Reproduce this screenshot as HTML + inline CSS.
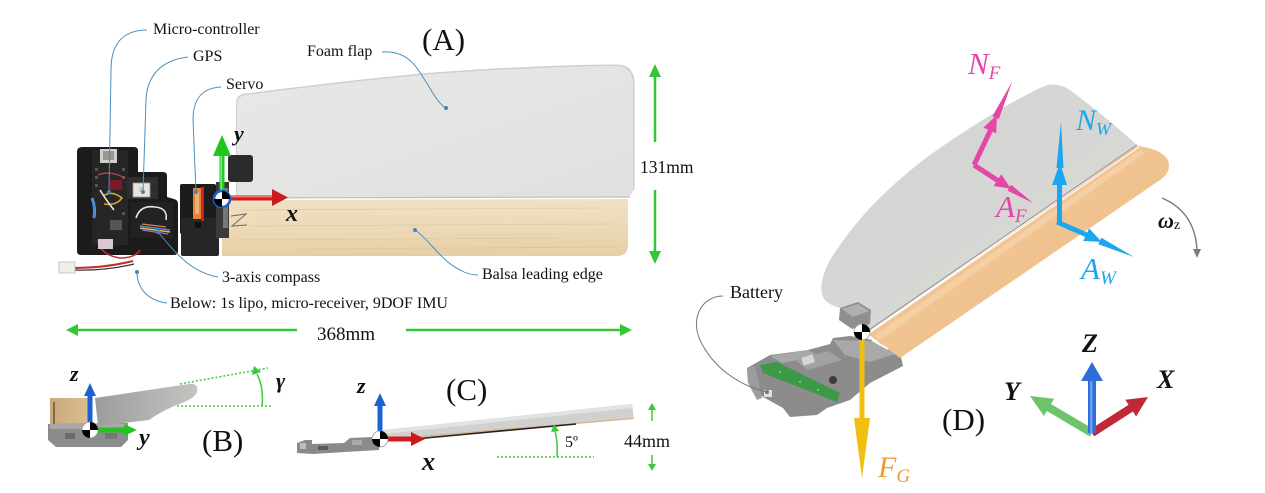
<!DOCTYPE html>
<html>
<head>
<meta charset="utf-8">
<style>
html,body{margin:0;padding:0;background:#fff;}
body{width:1265px;height:493px;overflow:hidden;}
svg{display:block;}
text{font-family:"Liberation Serif","DejaVu Serif",serif;}
.lbl{font-size:16px;fill:#111;}
.it{font-style:italic;}
.bi{font-style:italic;font-weight:bold;fill:#111;}
</style>
</head>
<body>
<svg width="1265" height="493" viewBox="0 0 1265 493" xmlns="http://www.w3.org/2000/svg">
<defs>
  <linearGradient id="balsaA" x1="0" y1="0" x2="0" y2="1">
    <stop offset="0" stop-color="#f1e2c6"/>
    <stop offset="0.5" stop-color="#ecd9b6"/>
    <stop offset="1" stop-color="#e6cfa6"/>
  </linearGradient>
  <linearGradient id="foamA" x1="0" y1="0" x2="1" y2="1">
    <stop offset="0" stop-color="#e8e8e6"/>
    <stop offset="1" stop-color="#e0e0de"/>
  </linearGradient>
  <linearGradient id="balsaD" x1="0" y1="0" x2="1" y2="1">
    <stop offset="0" stop-color="#f3cd9e"/>
    <stop offset="1" stop-color="#eeb982"/>
  </linearGradient>
  <linearGradient id="foamD" x1="0" y1="0" x2="1" y2="1">
    <stop offset="0" stop-color="#d3d4d1"/>
    <stop offset="1" stop-color="#d9dad7"/>
  </linearGradient>
  <linearGradient id="flapB" x1="0" y1="0" x2="1" y2="0">
    <stop offset="0" stop-color="#9c9c9a"/>
    <stop offset="1" stop-color="#c4c4c2"/>
  </linearGradient>
  <linearGradient id="woodB" x1="0" y1="0" x2="1" y2="0">
    <stop offset="0" stop-color="#c9a878"/>
    <stop offset="1" stop-color="#dcbf93"/>
  </linearGradient>
</defs>

<!-- ================= PANEL A ================= -->
<path d="M236,104 Q236,94 246,93.5 C300,86.5 360,79.5 420,73.5 C500,67.5 570,64.5 616,64.5 Q634.5,64.5 634.5,83 L634.5,190 L236,198 Z" fill="#cfcfcd"/>
<path d="M237,105 Q237,96 246,95 C300,88 360,81 420,75 C500,69 570,66 615,66 Q633,66 633,84 L633,189 Q633,197 624,197 L237,198 Z" fill="url(#foamA)"/>
<line x1="237" y1="198" x2="630" y2="197" stroke="#bdbdbb" stroke-width="1.2"/>
<path d="M222,200 L628,199 L628,245 Q628,256 617,256 L222,256 Z" fill="url(#balsaA)"/>
<g stroke="#d9c29a" stroke-width="0.8" opacity="0.7">
  <line x1="240" y1="210" x2="600" y2="208"/>
  <line x1="250" y1="226" x2="610" y2="224"/>
  <line x1="235" y1="240" x2="560" y2="238"/>
  <line x1="300" y1="249" x2="620" y2="247"/>
</g>
<polyline points="231,216 246,214 232,226 247,225" fill="none" stroke="#6a6a6a" stroke-width="1"/>

<!-- electronics housing -->
<path d="M82,147 L134,147 Q138,147 138,151 L138,172 L163,172 Q167,172 167,176 L167,197 L174,199 Q178,200 178,204 L178,251 Q178,255 174,255 L81,255 Q77,255 77,251 L77,152 Q77,147 82,147 Z" fill="#1b1b1b"/>
<rect x="92" y="150" width="36" height="95" fill="#262626"/>
<rect x="100" y="149" width="17" height="14" fill="#cfcfcb"/>
<rect x="103" y="151" width="11" height="9" fill="#9a9690"/>
<g fill="#555">
  <rect x="95" y="168" width="3" height="3"/><rect x="95" y="176" width="3" height="3"/><rect x="95" y="184" width="3" height="3"/>
  <rect x="122" y="168" width="3" height="3"/><rect x="122" y="176" width="3" height="3"/><rect x="122" y="212" width="3" height="3"/>
  <rect x="110" y="220" width="12" height="10"/>
</g>
<rect x="110" y="180" width="12" height="10" fill="#7a1a2a"/>
<path d="M92,198 Q96,208 94,218" stroke="#4a90d8" stroke-width="3" fill="none"/>
<path d="M103,196 Q112,190 122,198 Q116,206 104,204" stroke="#d9a030" stroke-width="1.6" fill="none"/>
<path d="M100,190 Q106,200 114,210" stroke="#e8e8e8" stroke-width="1.6" fill="none"/>
<path d="M98,175 Q110,170 125,178" stroke="#c04040" stroke-width="1.3" fill="none"/>
<rect x="127" y="177" width="31" height="22" fill="#2e2e2e"/>
<rect x="133" y="183" width="17" height="14" fill="#e6e4de" stroke="#999" stroke-width="0.8"/>
<rect x="139" y="187" width="5" height="5" fill="#cfc9b8"/>
<rect x="131" y="202" width="42" height="36" fill="#222"/>
<path d="M136,218 Q140,205 155,207 Q168,208 166,220" stroke="#e6e6e6" stroke-width="1.6" fill="none"/>
<path d="M140,226 L170,230" stroke="#4a8ad8" stroke-width="1.4"/>
<path d="M140,228 L170,232" stroke="#e0c040" stroke-width="1.4"/>
<path d="M142,230 L168,234" stroke="#9a6ad0" stroke-width="1.2"/>
<path d="M142,224 L166,227" stroke="#e08040" stroke-width="1.2"/>
<path d="M98,240 Q100,255 120,258 Q135,258 140,250" stroke="#c83030" stroke-width="1.5" fill="none"/>
<rect x="98" y="239" width="15" height="10" fill="#d8c8d0"/>
<path d="M74,268 Q105,268 133,261" stroke="#c82828" stroke-width="2" fill="none"/>
<path d="M74,270 Q105,271 134,264" stroke="#333" stroke-width="1.2" fill="none"/>
<rect x="59" y="262" width="16" height="11" fill="#f2efe6" stroke="#bbb" stroke-width="0.8"/>
<!-- servo -->
<rect x="180" y="184" width="36" height="50" rx="2" fill="#1c1c1c"/>
<rect x="181" y="218" width="38" height="38" rx="2" fill="#262626"/>
<rect x="193" y="188" width="8" height="31" fill="#e4862e"/>
<rect x="195" y="192" width="4" height="22" fill="#f0b070"/>
<rect x="201" y="187" width="3" height="34" fill="#d02020"/>
<rect x="195" y="222" width="6" height="6" fill="#0e0e0e"/>
<rect x="216" y="182" width="13" height="56" fill="#3a3a3a"/>
<rect x="223" y="188" width="5" height="40" fill="#777"/>
<rect x="228" y="155" width="25" height="27" rx="3" fill="#2b2b2b"/>

<!-- axes A -->
<rect x="219.5" y="153" width="5" height="40" fill="#24c824"/>
<rect x="220.5" y="153" width="1.5" height="40" fill="#7fe87f"/>
<polygon points="213,156 231,156 222,135" fill="#22c422"/>
<rect x="228" y="195.5" width="46" height="5" fill="#d01c1c"/>
<rect x="228" y="196" width="46" height="1.5" fill="#f07070"/>
<polygon points="272,189 272,206 288,197.5" fill="#cc1a1a"/>
<g transform="translate(222,199)">
  <circle r="8" fill="#fff" stroke="#1e63cc" stroke-width="2.6"/>
  <path d="M0,0 L0,-8 A8 8 0 0 1 8,0 Z" fill="#000"/>
  <path d="M0,0 L0,8 A8 8 0 0 1 -8,0 Z" fill="#000"/>
</g>
<text x="234" y="141" class="bi" font-size="22">y</text>
<text x="286" y="221" class="bi" font-size="24">x</text>

<!-- leaders A -->
<g stroke="#4d8fbd" stroke-width="1" fill="none">
  <path d="M147,30 C122,30 111,45 111,70 L109,192"/>
  <path d="M188,57 C162,60 147,75 146,100 L143,192"/>
  <path d="M221,87 C201,88 193,100 193,120 L196,192"/>
  <path d="M158,232 C175,252 190,272 218,277"/>
  <path d="M137,272 C137,290 150,301 167,303"/>
  <path d="M382,52 C410,50 418,70 428,85 C435,97 440,105 446,108"/>
  <path d="M415,230 C430,240 440,260 460,270 C467,274 472,275 478,275"/>
</g>
<g fill="#3d86c0">
  <circle cx="109" cy="192" r="2"/><circle cx="143" cy="192" r="2"/><circle cx="196" cy="192" r="2"/>
  <circle cx="158" cy="232" r="2"/><circle cx="137" cy="272" r="2"/>
  <circle cx="446" cy="108" r="2"/><circle cx="415" cy="230" r="2"/>
</g>

<text x="153" y="34" class="lbl">Micro-controller</text>
<text x="193" y="61" class="lbl">GPS</text>
<text x="226" y="89" class="lbl">Servo</text>
<text x="307" y="56" class="lbl">Foam flap</text>
<text x="422" y="50" font-size="31" fill="#111">(A)</text>
<text x="640" y="173" font-size="17.5" fill="#111">131mm</text>
<text x="482" y="279" class="lbl">Balsa leading edge</text>
<text x="222" y="282" class="lbl">3-axis compass</text>
<text x="170" y="308" class="lbl">Below: 1s lipo, micro-receiver, 9DOF IMU</text>

<g stroke="#34c634" stroke-width="2.5">
  <line x1="655" y1="74" x2="655" y2="142"/>
  <line x1="655" y1="190" x2="655" y2="254"/>
  <line x1="76" y1="330" x2="297" y2="330"/>
  <line x1="406" y1="330" x2="622" y2="330"/>
</g>
<g fill="#34c634">
  <polygon points="649,77 661,77 655,64"/>
  <polygon points="649,251 661,251 655,264"/>
  <polygon points="78,324 78,336 66,330"/>
  <polygon points="620,324 620,336 632,330"/>
</g>
<text x="317" y="340" font-size="19" fill="#111">368mm</text>

<!-- ================= PANEL B ================= -->
<rect x="50" y="398" width="40" height="29" fill="url(#woodB)"/>
<line x1="54" y1="402" x2="54" y2="425" stroke="#6a5438" stroke-width="1.5"/>
<path d="M48,424 L128,423 L128,440 L121,447 L56,447 L48,440 Z" fill="#8c8c8c"/>
<path d="M50,424 L127,424 L127,429 L50,429 Z" fill="#a9a9a9"/>
<rect x="65" y="433" width="10" height="6" fill="#6c6c6c"/>
<rect x="105" y="433" width="12" height="6" fill="#777"/>
<path d="M95,398 L189,384 Q199,383 197,392 Q195,399 174,406 Q157,414 149,420 L98,426 Z" fill="url(#flapB)"/>
<rect x="87.5" y="394" width="5" height="36" fill="#1b63d0"/>
<polygon points="84,396 96,396 90,383" fill="#1b63d0"/>
<rect x="90" y="427.5" width="36" height="5" fill="#22c422"/>
<polygon points="124,424 124,436 137,430" fill="#22c422"/>
<g transform="translate(90,430)">
  <circle r="8" fill="#fff" stroke="#999" stroke-width="0.8"/>
  <path d="M0,0 L0,-8 A8 8 0 0 1 8,0 Z" fill="#000"/>
  <path d="M0,0 L0,8 A8 8 0 0 1 -8,0 Z" fill="#000"/>
</g>
<text x="70" y="381" class="bi" font-size="22">z</text>
<text x="139" y="445" class="bi" font-size="24">y</text>
<g stroke="#3cc83c" stroke-width="1.5" stroke-dasharray="2 2" fill="none">
  <line x1="177" y1="406" x2="272" y2="406"/>
  <line x1="180" y1="384" x2="268" y2="368"/>
</g>
<path d="M262,406 Q264,388 257,374" stroke="#3cc83c" stroke-width="1.5" fill="none"/>
<polygon points="252,375 261,372 254,366" fill="#3cc83c"/>
<text x="276" y="388" class="bi" font-size="22">γ</text>
<text x="202" y="451" font-size="31" fill="#111">(B)</text>

<!-- ================= PANEL C ================= -->
<path d="M297,443 L305,440 L312,440 L312,444 L344,443 L350,438 L373,437 L379,441 L379,450 L345,452 L313,454 L297,453 Z" fill="#8a8a8a"/>
<rect x="300" y="443" width="6" height="6" fill="#bdbdbd"/>
<rect x="318" y="446" width="10" height="4" fill="#5a5a5a"/>
<rect x="352" y="440" width="10" height="5" fill="#a9a9a9"/>
<path d="M383,430 L632,404 L634,419 L420,438 L388,441 Z" fill="#d0d0ce"/>
<path d="M383,430 L632,404 L632,408 L384,434 Z" fill="#e2e2e0"/>
<line x1="420" y1="436.5" x2="633" y2="418.5" stroke="#dab080" stroke-width="1"/>
<line x1="420" y1="438.5" x2="576" y2="424" stroke="#222" stroke-width="1.6"/>
<rect x="377.5" y="404" width="5" height="35" fill="#1b63d0"/>
<polygon points="374,406 386,406 380,393" fill="#1b63d0"/>
<rect x="380" y="436.5" width="33" height="5" fill="#d01c1c"/>
<polygon points="411,432 411,446 425,439" fill="#cc1a1a"/>
<g transform="translate(380,439)">
  <circle r="8" fill="#fff" stroke="#999" stroke-width="0.8"/>
  <path d="M0,0 L0,-8 A8 8 0 0 1 8,0 Z" fill="#000"/>
  <path d="M0,0 L0,8 A8 8 0 0 1 -8,0 Z" fill="#000"/>
</g>
<text x="357" y="393" class="bi" font-size="22">z</text>
<text x="422" y="470" class="bi" font-size="26">x</text>
<text x="446" y="400" font-size="31" fill="#111">(C)</text>
<line x1="497" y1="457" x2="594" y2="457" stroke="#3cc83c" stroke-width="1.5" stroke-dasharray="2 2"/>
<path d="M557,457 Q558,442 555,431" stroke="#3cc83c" stroke-width="1.5" fill="none"/>
<polygon points="551,432 559,431 554,424" fill="#3cc83c"/>
<text x="565" y="447" font-size="16" fill="#111">5º</text>
<g stroke="#3cc83c" stroke-width="1.5">
  <line x1="652" y1="409" x2="652" y2="421"/>
  <line x1="652" y1="455" x2="652" y2="465"/>
</g>
<g fill="#3cc83c">
  <polygon points="648,410 656,410 652,403"/>
  <polygon points="648,464 656,464 652,471"/>
</g>
<text x="624" y="447" font-size="18" fill="#111">44mm</text>

<!-- ================= PANEL D ================= -->
<path d="M823,297 C818,285 825,265 838,248 C860,215 890,185 930,155 C965,130 1005,105 1040,88 Q1055,80 1070,90 C1090,105 1115,125 1137,145 L868,332 L852,322 L840,308 Q826,304 823,297 Z" fill="url(#foamD)"/>
<!-- mechanism -->
<path d="M747,368 L770,355 L808,350 L830,344 L833,338 L850,336 L873,340 L900,352 L903,366 L870,383 L850,400 L827,408 L817,415 L790,417 L783,408 L763,397 L748,383 Z" fill="#8c8c8c"/>
<path d="M770,356 L808,350 L818,356 L782,363 Z" fill="#a8a8a8"/>
<path d="M795,360 L828,351 L842,360 L808,370 Z" fill="#a2a2a2"/>
<rect x="802" y="356" width="12" height="8" fill="#d6d6d6" transform="rotate(-18 808 360)"/>
<path d="M833,340 L873,341 L898,353 L870,362 L845,355 Z" fill="#a9a9a9"/>
<circle cx="833" cy="380" r="4" fill="#3e3e3e"/>
<path d="M760,365 L777,362 L840,393 L837,402 L763,373 Z" fill="#3c9948"/>
<g fill="#8ccf8c"><circle cx="780" cy="372" r="1"/><circle cx="800" cy="382" r="1"/><circle cx="818" cy="390" r="1"/></g>
<path d="M747,368 L755,366 L762,398 L757,400 L748,383 Z" fill="#9c9c9c"/>
<rect x="764" y="390" width="8" height="7" fill="#e0e0e0"/>
<path d="M840,308 L858,302 L871,310 L870,324 L852,329 L839,320 Z" fill="#8f8f8f"/>
<path d="M842,309 L858,304 L869,311 L853,317 Z" fill="#b0b0b0"/>
<!-- balsa -->
<path d="M868,334 L1137,146 Q1160,148 1168,160 Q1172,172 1160,180 L900,358 Z" fill="url(#balsaD)"/>
<path d="M874,336 L1140,150 L1145,153 L880,340 Z" fill="#f6d6ac" opacity="0.7"/>
<line x1="866" y1="332" x2="1137" y2="145" stroke="#9c9c9a" stroke-width="1.2"/>
<line x1="868" y1="334" x2="1139" y2="147" stroke="#fafafa" stroke-width="1.2"/>
<line x1="872" y1="340" x2="888" y2="349" stroke="#fafafa" stroke-width="2"/>
<!-- FG arrow -->
<rect x="859.5" y="336" width="5" height="84" fill="#f0c010"/>
<polygon points="854,418 870,418 862,478" fill="#f0c010"/>
<g transform="translate(862,332)">
  <circle r="8" fill="#fff" stroke="#999" stroke-width="0.8"/>
  <path d="M0,0 L0,-8 A8 8 0 0 1 8,0 Z" fill="#000"/>
  <path d="M0,0 L0,8 A8 8 0 0 1 -8,0 Z" fill="#000"/>
</g>
<text x="878" y="477" class="it" font-size="30" fill="#f29a2c">F<tspan font-size="19" dy="5">G</tspan></text>

<!-- pink arrows -->
<g fill="#e646a8" stroke="none">
  <line x1="974" y1="165" x2="992" y2="127" stroke="#e646a8" stroke-width="5"/>
  <polygon points="996.2,133.4 983.4,127.6 996.9,115"/>
  <polygon points="998.8,119.2 992.4,116.2 1012,82"/>
  <line x1="974" y1="165" x2="1000" y2="182" stroke="#e646a8" stroke-width="5"/>
  <polygon points="993.7,186 1001.3,174.2 1011,188.8"/>
  <polygon points="1007.4,190.6 1011.2,184.8 1033,203"/>
</g>
<!-- blue arrows -->
<g fill="#1aa6f0">
  <line x1="1059.5" y1="222" x2="1059.5" y2="183" stroke="#1aa6f0" stroke-width="5"/>
  <polygon points="1052,185 1067,185 1060,163"/>
  <polygon points="1056.5,168 1063.5,168 1061,122"/>
  <line x1="1057" y1="222" x2="1088" y2="235.5" stroke="#1aa6f0" stroke-width="5"/>
  <polygon points="1083.2,241 1089.2,228.4 1101.6,241.9"/>
  <polygon points="1098.3,244.2 1101.3,237.8 1134,257"/>
</g>
<text x="968" y="74" class="it" font-size="31" fill="#e646a8">N<tspan font-size="19" dy="5">F</tspan></text>
<text x="996" y="217" class="it" font-size="31" fill="#e646a8">A<tspan font-size="19" dy="5">F</tspan></text>
<text x="1076" y="130" class="it" font-size="30" fill="#1aa6f0">N<tspan font-size="18" dy="5">W</tspan></text>
<text x="1081" y="279" class="it" font-size="31" fill="#1aa6f0">A<tspan font-size="19" dy="5">W</tspan></text>

<path d="M1162,198 Q1195,212 1197,250" stroke="#7a7a7a" stroke-width="1.4" fill="none"/>
<polygon points="1193,249 1201,249 1197,258" fill="#7a7a7a"/>
<text x="1158" y="228" class="bi" font-size="22">ω<tspan font-size="14" font-weight="normal" font-style="normal" dy="1">z</tspan></text>

<path d="M723,296 C702,296 690,318 700,340 C713,368 740,386 767,392" stroke="#777" stroke-width="1" fill="none"/>
<circle cx="767" cy="392" r="2" fill="#777"/>
<text x="730" y="298" font-size="18" fill="#111">Battery</text>

<text x="942" y="430" font-size="31" fill="#111">(D)</text>

<!-- triad -->
<line x1="1092" y1="433" x2="1131" y2="408" stroke="#c02838" stroke-width="8"/>
<polygon points="1136.1,416.5 1125.3,399.7 1148,397" fill="#c02838"/>
<line x1="1092" y1="433" x2="1048" y2="407" stroke="#6cc46c" stroke-width="8"/>
<polygon points="1043.9,416 1054.1,398.8 1030,396" fill="#6cc46c"/>
<rect x="1088" y="378" width="8" height="55" fill="#2d6fd8"/>
<rect x="1090" y="378" width="2.5" height="55" fill="#6a9ef0"/>
<polygon points="1081,381 1103,381 1092,362" fill="#2d6fd8"/>
<text x="1082" y="352" class="bi" font-size="26">Z</text>
<text x="1004" y="400" class="bi" font-size="26">Y</text>
<text x="1157" y="388" class="bi" font-size="26">X</text>
</svg>
</body>
</html>
